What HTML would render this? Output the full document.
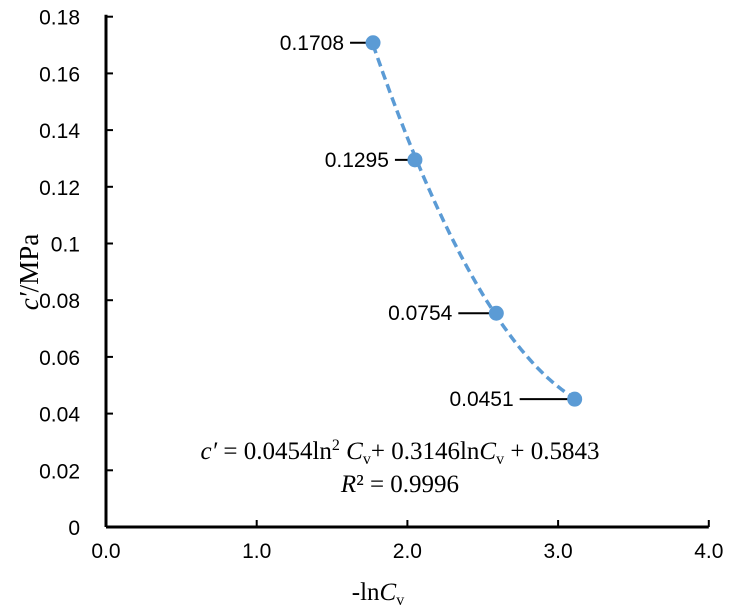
<!DOCTYPE html>
<html><head><meta charset="utf-8"><style>
body{margin:0;background:#fff}
svg{display:block}
.t{font-family:"Liberation Sans",sans-serif;font-size:21px;fill:#000}
.s{font-family:"Liberation Serif",serif;font-size:25px;fill:#000}
</style></head><body>
<svg id="c" width="747" height="610">
<g id="g"></g>
<text class="s" x="400" y="459" text-anchor="middle"><tspan font-style="italic">c′</tspan> = 0.0454ln<tspan dy="-9" font-size="16">2</tspan><tspan dy="9"> </tspan><tspan font-style="italic">C</tspan><tspan dy="5" font-size="16">v</tspan><tspan dy="-5">+ 0.3146ln</tspan><tspan font-style="italic">C</tspan><tspan dy="5" font-size="16">v</tspan><tspan dy="-5"> + 0.5843</tspan></text>
<text class="s" x="400" y="492" text-anchor="middle"><tspan font-style="italic">R</tspan>² = 0.9996</text>
<text class="s" x="378" y="600" text-anchor="middle">-ln<tspan font-style="italic">C</tspan><tspan dy="5" font-size="16">v</tspan></text>
<text class="s" transform="translate(38,272) rotate(-90)" text-anchor="middle" style="font-size:27px"><tspan font-style="italic">c′</tspan>/MPa</text>
</svg>
<script>
const xs=[1.772,2.05,2.59,3.11];
const ys=[0.1708,0.1295,0.0754,0.0451];
const labels=["0.1708","0.1295","0.0754","0.0451"];
const xTicks=[0,1,2,3,4];
const yTicks=[0,0.02,0.04,0.06,0.08,0.1,0.12,0.14,0.16,0.18];
const yTickLabels=["0","0.02","0.04","0.06","0.08","0.1","0.12","0.14","0.16","0.18"];
const leaderLen=[23,20,38,55];
const X=v=>106+v*150.7, Y=v=>527-v/0.02*56.7;
const g=document.getElementById('g'),NS='http://www.w3.org/2000/svg';
function mk(t,a){const e=document.createElementNS(NS,t);for(const k in a)e.setAttribute(k,a[k]);g.appendChild(e);return e;}
let e=mk('line',{x1:106,y1:527,x2:X(4),y2:527,stroke:'#000','stroke-width':3});


e=mk('line',{x1:106,y1:527,x2:106,y2:Y(0.18)-2,stroke:'#000','stroke-width':3});


xTicks.forEach(v=>{mk('line',{x1:X(v),y1:527,x2:X(v),y2:520,stroke:'#000','stroke-width':2});
 const t=mk('text',{x:X(v),y:558,'text-anchor':'middle',class:'t'});t.textContent=v.toFixed(1);
 
 });
yTicks.forEach((v,i)=>{mk('line',{x1:106,y1:Y(v),x2:113,y2:Y(v),stroke:'#000','stroke-width':2});
 const t=mk('text',{x:80,y:Y(v)+8,'text-anchor':'end',class:'t'});t.textContent=yTickLabels[i];
 
 });
function fit(){let S=[0,0,0,0,0],T=[0,0,0];xs.forEach((x,i)=>{for(let k=0;k<5;k++)S[k]+=x**k;for(let k=0;k<3;k++)T[k]+=ys[i]*x**k;});
 const A=[[S[0],S[1],S[2],T[0]],[S[1],S[2],S[3],T[1]],[S[2],S[3],S[4],T[2]]];
 for(let i=0;i<3;i++){for(let j=i+1;j<3;j++){const f=A[j][i]/A[i][i];for(let k=i;k<4;k++)A[j][k]-=f*A[i][k];}}
 const c=[0,0,0];for(let i=2;i>=0;i--){let s=A[i][3];for(let k=i+1;k<3;k++)s-=A[i][k]*c[k];c[i]=s/A[i][i];}return c;}
const c=fit();let d='';
const x0=Math.min(...xs),x1=Math.max(...xs);
for(let i=0;i<=60;i++){const x=x0+(x1-x0)*i/60;const y=c[0]+c[1]*x+c[2]*x*x;d+=(i?'L':'M')+X(x).toFixed(1)+','+Y(y).toFixed(1);}
e=mk('path',{d:d,fill:'none',stroke:'#5b9bd5','stroke-width':3.5,'stroke-dasharray':'9,5'});


xs.forEach((x,i)=>{const px=X(x),py=Y(ys[i]);
 const ln=mk('line',{x1:px-leaderLen[i],y1:py,x2:px,y2:py,stroke:'#000','stroke-width':2});
 
 
 const p=mk('circle',{cx:px,cy:py,r:7.5,fill:'#5b9bd5'});
 
 
 const t=mk('text',{x:px-leaderLen[i]-6,y:py+7,'text-anchor':'end',class:'t'});t.textContent=labels[i];
 
 });
</script>
</body></html>
